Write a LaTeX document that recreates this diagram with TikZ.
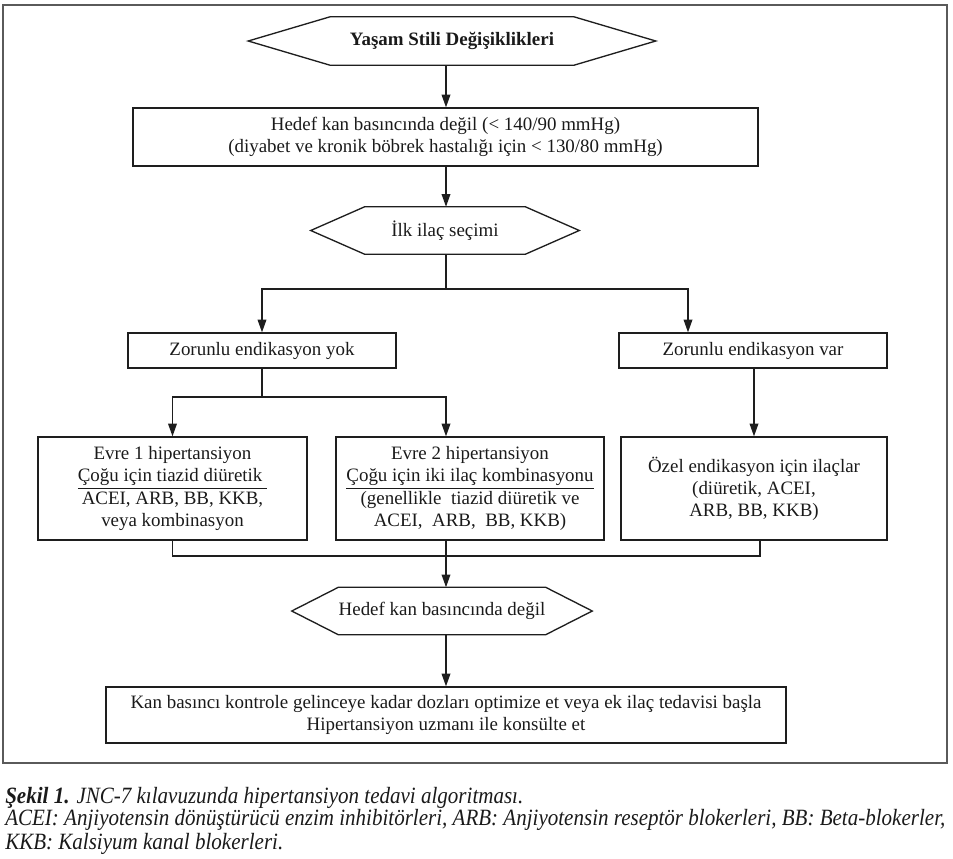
\documentclass[tikz,border=0pt]{standalone}
\usepackage{fontspec}
\setmainfont{Liberation Serif}
\usetikzlibrary{arrows.meta,calc}
\definecolor{linecol}{HTML}{1E1E1E}
\definecolor{textcol}{HTML}{1A1A1A}
\definecolor{framecol}{HTML}{5A5A5A}
\newlength{\capwidthA}
\newcommand{\capfontx}{\fontsize{17.5}{20}\selectfont\itshape}
\begin{document}%
\settowidth{\capwidthA}{\capfontx ACEI: Anjiyotensin dönüştürücü enzim inhibitörleri, ARB: Anjiyotensin reseptör blokerleri, BB: Beta-blokerler,}%
\pgfmathsetmacro{\capfac}{705/\the\capwidthA}%
\begin{tikzpicture}[x=0.75pt,y=-0.75pt,
  txt/.style={font=\fontsize{14.2}{16.6}\selectfont, text=textcol, align=center, inner sep=0pt},
  boxnode/.style={txt, draw=linecol, line width=1pt},
  hexnode/.style={txt},
  ln/.style={draw=linecol, line width=1pt},
  arr/.style={ln, -{Triangle[length=9.5pt,width=6.5pt]}},
  captxt/.style={font=\capfontx, text=textcol, inner sep=0pt, anchor=base west}]
\useasboundingbox (0,0) rectangle (953,858);
\draw[framecol, line width=1.5pt] (3,5) rectangle (947,763);

% axis coordinates
\coordinate (ax) at (446,0);
\coordinate (vx) at (688,0);
\coordinate (j1) at (446,289);
\coordinate (j2) at (446,397);
\coordinate (j3) at (446,556);

% nodes
\node[hexnode, font=\fontsize{14.2}{16.6}\selectfont\bfseries, minimum width=182.25pt, minimum height=36pt] (h1) at (452,41) {Yaşam Stili Değişiklikleri};
\draw[ln] (h1.north west) -- (h1.north east) -- ([xshift=61.5pt]h1.east) -- (h1.south east) -- (h1.south west) -- ([xshift=-61.5pt]h1.west) -- cycle;

\node[boxnode, minimum width=468.75pt, minimum height=43.5pt] (b1) at (445.5,137) {Hedef kan basıncında değil (< 140/90 mmHg)\\(diyabet ve kronik böbrek hastalığı için < 130/80 mmHg)};

\node[hexnode, minimum width=120pt, minimum height=35.25pt] (h2) at (445,230.5) {İlk ilaç seçimi};
\draw[ln] (h2.north west) -- (h2.north east) -- ([xshift=40.5pt]h2.east) -- (h2.south east) -- (h2.south west) -- ([xshift=-40.5pt]h2.west) -- cycle;

\node[boxnode, minimum width=201pt, minimum height=26.25pt] (yok) at (262,350.5) {Zorunlu endikasyon yok};
\node[boxnode, minimum width=201pt, minimum height=26.25pt] (var) at (753,350.5) {Zorunlu endikasyon var};

\node[boxnode, minimum width=201.75pt, minimum height=77.25pt] (e1) at (172.5,488.5) {Evre 1 hipertansiyon\\\underline{Çoğu için tiazid diüretik\ }\\ACEI, ARB, BB, KKB,\\veya kombinasyon};
\node[boxnode, minimum width=201pt, minimum height=77.25pt] (e2) at (470,488.5) {Evre 2 hipertansiyon\\\underline{Çoğu için iki ilaç kombinasyonu}\\(genellikle\ \ tiazid diüretik ve\\ACEI,\ \ ARB,\ \ BB, KKB)};
\node[boxnode, minimum width=199.5pt, minimum height=77.25pt] (oz) at (754,488.5) {Özel endikasyon için ilaçlar\\(diüretik, ACEI,\\ARB, BB, KKB)};

\node[hexnode, minimum width=130.5pt, minimum height=35.25pt] (h3) at (442,611) {Hedef kan basıncında değil};
\draw[ln] (h3.north west) -- (h3.north east) -- ([xshift=35pt]h3.east) -- (h3.south east) -- (h3.south west) -- ([xshift=-35pt]h3.west) -- cycle;

\node[boxnode, minimum width=510pt, minimum height=42pt] (fin) at (446,715) {Kan basıncı kontrole gelinceye kadar dozları optimize et veya ek ilaç tedavisi başla\\Hipertansiyon uzmanı ile konsülte et};

% connectors
\draw[arr] (h1.south -| ax) -- (b1.north -| ax);
\draw[arr] (b1.south -| ax) -- (h2.north -| ax);
\draw[ln] (h2.south -| ax) -- (j1);
\draw[arr] (j1) -| (yok.north);
\draw[arr] (j1) -| (var.north -| vx);
\draw[ln] (yok.south) -- (yok.south |- j2) -- (j2);
\draw[arr] (j2) -| (e1.north);
\draw[arr] (yok.south |- j2) -| (e2.north -| ax);
\draw[arr] (var.south -| oz.north) -- (oz.north);
\draw[ln] (e1.south) -- (e1.south |- j3) -- ([xshift=4.5pt]oz.south |- j3) -- ([xshift=4.5pt]oz.south);
\draw[arr] (e2.south -| ax) -- (h3.north -| ax);
\draw[arr] (h3.south -| ax) -- (fin.north -| ax);

% caption
\node[captxt] (c1) at (5,803) {\scalebox{\capfac}[1]{\textbf{Şekil 1.} JNC-7 kılavuzunda hipertansiyon tedavi algoritması.}};
\node[captxt] (c2) at (5,825) {\scalebox{\capfac}[1]{ACEI: Anjiyotensin dönüştürücü enzim inhibitörleri, ARB: Anjiyotensin reseptör blokerleri, BB: Beta-blokerler,}};
\node[captxt] (c3) at (5,849) {\scalebox{\capfac}[1]{KKB: Kalsiyum kanal blokerleri.}};
\end{tikzpicture}%
\end{document}
